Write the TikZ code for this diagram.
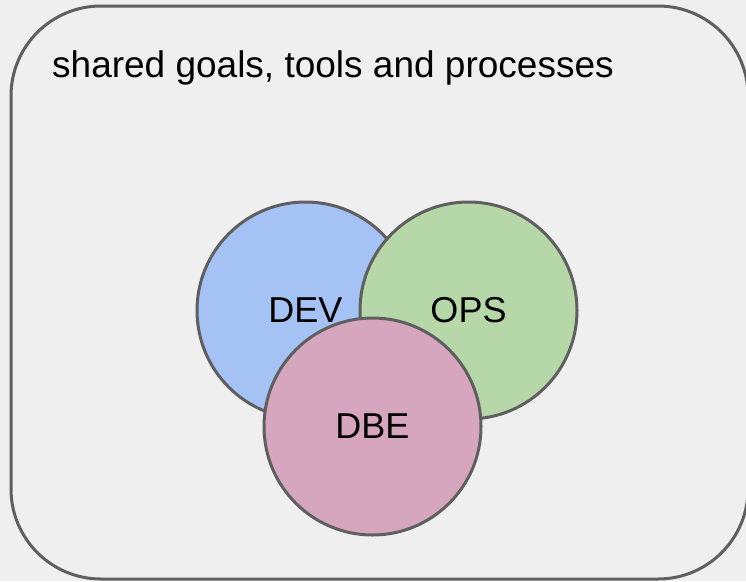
\documentclass[tikz,border=0pt]{standalone}
\usepackage{fontspec}
\setmainfont{Liberation Sans}
\definecolor{bggrey}{HTML}{EFEFEF}
\definecolor{edgegrey}{HTML}{5F5F5F}
\definecolor{devblue}{HTML}{A4C2F4}
\definecolor{opsgreen}{HTML}{B6D7A8}
\definecolor{dbepink}{HTML}{D5A6BD}

\begin{document}
\begin{tikzpicture}
      [x=1pt, y=-1pt,
      team/.style={draw=edgegrey, line width=3pt, circle, minimum size=217pt,
        inner sep=0pt, font=\fontsize{36}{43}\selectfont},
      ]
      \useasboundingbox[fill=bggrey] (0,0) rectangle (746,581);
      \clip (0,0) rectangle (746,581);

      \draw[edgegrey, line width=3pt, rounded corners=90pt] (11,6) rectangle (748,579);
      \node[anchor=base west, inner sep=0pt, font=\fontsize{37}{44}\selectfont]
        (goals) at (52,77) {shared goals, tools and processes};

      \node[team, fill=devblue] (DEV) at (305.5,310.5) {DEV};
      \node[team, fill=opsgreen] (OPS) at (468.5,310.5) {OPS};
      \node[team, fill=dbepink] (DBE) at (372.5,426.5) {DBE};
    \end{tikzpicture}
\end{document}
